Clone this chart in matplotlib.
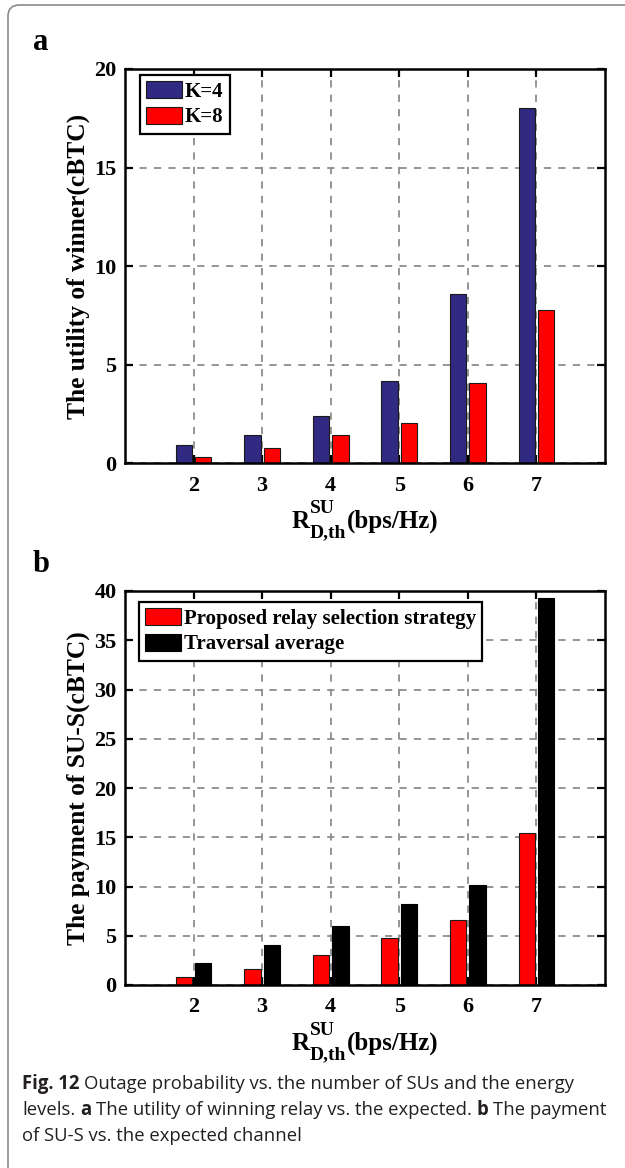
import numpy as np
import matplotlib.pyplot as plt
from matplotlib.patches import FancyBboxPatch

# data
rates = [2, 3, 4, 5, 6, 7]
utility_k4 = [0.90, 1.41, 2.40, 4.15, 8.57, 18.03]
utility_k8 = [0.29, 0.78, 1.41, 2.03, 4.05, 7.76]
pay_proposed = [0.84, 1.60, 3.09, 4.73, 6.62, 15.45]
pay_traversal = [2.25, 4.11, 6.00, 8.25, 10.15, 39.27]
yticks_a = [0, 5, 10, 15, 20]
yticks_b = [0, 5, 10, 15, 20, 25, 30, 35, 40]

W, H = 625, 1168
plt.rcParams['font.family'] = 'Liberation Serif'
plt.rcParams['font.weight'] = 'bold'
plt.rcParams['axes.labelweight'] = 'bold'

fig = plt.figure(figsize=(W / 100, H / 100), dpi=100)
fig.canvas.draw()
renderer = fig.canvas.get_renderer()

# grey rounded frame around the figure (cut on right/bottom)
frame = FancyBboxPatch((8 / W, -0.05), 1.2, 1 - 5 / H + 0.05,
                       boxstyle='round,pad=0,rounding_size=0.018',
                       transform=fig.transFigure, fill=False,
                       edgecolor='#8a8a8a', lw=1.2, mutation_aspect=W / H)
fig.patches.append(frame)


def measure(s, size, **kw):
    t = fig.text(0, 0, s, fontsize=size, **kw)
    w = t.get_window_extent(renderer).width
    t.remove()
    return w


def px_ax(top, bottom, left=125, right=605):
    return [left / W, 1 - bottom / H, (right - left) / W, (bottom - top) / H]


def rate_label(cx, base):
    # R^{SU}_{D,th}(bps/Hz) built from pieces, centred at cx, baseline at base (pixels)
    big, small = 18, 14
    wR = measure('R', big)
    wSU = measure('SU', small)
    wD = measure('D,th', small)
    wP = measure('(bps/Hz)', big)
    total = wR + max(wSU, wD) + wP
    x0 = cx - total / 2
    kw = dict(va='baseline', ha='left')
    fig.text(x0 / W, 1 - base / H, 'R', fontsize=big, **kw)
    fig.text((x0 + wR) / W, 1 - (base - 15) / H, 'SU', fontsize=small, **kw)
    fig.text((x0 + wR) / W, 1 - (base + 9) / H, 'D,th', fontsize=small, **kw)
    fig.text((x0 + wR + max(wSU, wD)) / W, 1 - base / H, '(bps/Hz)', fontsize=big, **kw)


def style_axes(ax, yticks):
    ax.set_xlim(1, 8)
    ax.set_ylim(yticks[0], yticks[-1])
    ax.set_xticks(rates)
    ax.set_yticks(yticks)
    ax.grid(True, ls=(0, (4, 4)), color='#8c8c8c', lw=1.3)
    ax.set_axisbelow(True)
    ax.tick_params(direction='in', length=6, width=1.6, top=True, right=True,
                   labelsize=16)
    ax.tick_params(axis='x', pad=9)
    ax.tick_params(axis='y', pad=6)
    for s in ax.spines.values():
        s.set_linewidth(1.8)


# y label size chosen so the text spans ~307 px like the reference
ylab_size = 16 * 307 / measure('The utility of winner(cBTC)', 16)

x = np.array(rates)
bw = 0.24
off = 0.14
leg_kw = dict(loc='upper left', borderaxespad=0, fancybox=False, framealpha=1,
              edgecolor='black', fontsize=15, handlelength=1.7, handleheight=0.85,
              handletextpad=0.15, borderpad=0.3, labelspacing=0.25)

# panel a
ax1 = fig.add_axes(px_ax(69, 463))
ax1.bar(x - off, utility_k4, bw, color='#312A82', edgecolor='#1a1a1a', lw=0.8, label='K=4')
ax1.bar(x + off, utility_k8, bw, color='#FF0000', edgecolor='#1a1a1a', lw=0.8, label='K=8')
style_axes(ax1, yticks_a)
ax1.set_ylabel('The utility of winner(cBTC)', fontsize=ylab_size)
ax1.yaxis.set_label_coords(-35 / 480, 0.5)
leg = ax1.legend(bbox_to_anchor=(15 / 480, (463 - 75) / 394), **leg_kw)
leg.get_frame().set_linewidth(1.6)
fig.text(33 / W, 1 - 42 / H, 'a', fontsize=22, va='center', ha='left')
rate_label(365, 528)

# panel b
ax2 = fig.add_axes(px_ax(591, 985))
ax2.bar(x - off, pay_proposed, bw, color='#FF0000', edgecolor='#1a1a1a', lw=0.8,
        label='Proposed relay selection strategy')
ax2.bar(x + off, pay_traversal, bw, color='#000000', edgecolor='#000000', lw=0.8,
        label='Traversal average')
style_axes(ax2, yticks_b)
ax2.set_ylabel('The payment of SU-S(cBTC)', fontsize=ylab_size)
ax2.yaxis.set_label_coords(-35 / 480, 0.5)
leg = ax2.legend(bbox_to_anchor=(14 / 480, (985 - 602) / 394), **leg_kw)
leg.get_frame().set_linewidth(1.6)
fig.text(33 / W, 1 - 564 / H, 'b', fontsize=22, va='center', ha='left')
rate_label(365, 1050)

# caption with bold pieces
cap_lines = [
    [('Fig. 12', 'bold'), ('Outage probability vs. the number of SUs and the energy', 'normal')],
    [('levels.', 'normal'), ('a', 'bold'), ('The utility of winning relay vs. the expected.', 'normal'),
     ('b', 'bold'), ('The payment', 'normal')],
    [('of SU-S vs. the expected channel', 'normal')],
]
cap_y = [1084, 1110, 1136]
cap_font = 'Open Sans'


def line_width(parts, size):
    sp = measure('a a', size, family=cap_font) - measure('aa', size, family=cap_font)
    return sum(measure(s, size, family=cap_font, weight=wt) for s, wt in parts) + sp * (len(parts) - 1)


cap_size = 10 * 586 / line_width(cap_lines[1], 10)
space_w = measure('a a', cap_size, family=cap_font) - measure('aa', cap_size, family=cap_font)

for parts, yy in zip(cap_lines, cap_y):
    xx = 22
    for s, wt in parts:
        fig.text(xx / W, 1 - yy / H, s, fontsize=cap_size, family=cap_font,
                 weight=wt, va='center', ha='left', color='#231f20')
        xx += measure(s, cap_size, family=cap_font, weight=wt) + space_w

fig.savefig('out.png', dpi=100)
